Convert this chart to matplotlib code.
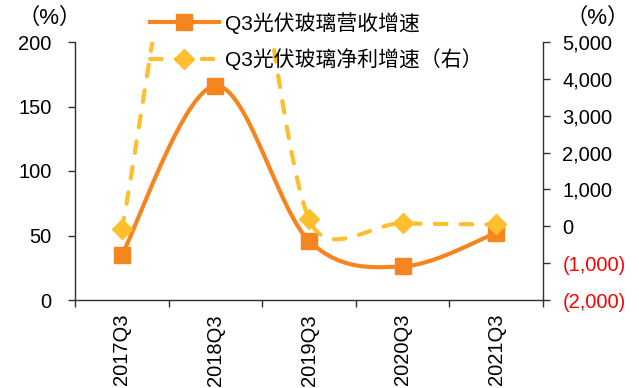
import matplotlib
matplotlib.use("Agg")
import matplotlib.pyplot as plt
import numpy as np
from matplotlib.ticker import FixedLocator, FuncFormatter

plt.rcParams['font.family'] = ['Liberation Sans', 'Noto Sans CJK SC']

quarters = ["2017Q3", "2018Q3", "2019Q3", "2020Q3", "2021Q3"]
revenue_growth = [35, 166, 46, 26, 52]          # left axis, %
profit_growth = [-80, 12000, 190, 80, 50]       # right axis, %
left_ticks = [0, 50, 100, 150, 200]
right_ticks = [-2000, -1000, 0, 1000, 2000, 3000, 4000, 5000]

ORANGE = "#F5861F"
YELLOW = "#FDBF2D"


def smooth(ax, xs, ys, n=60):
    # Bezier smoothing done in screen space, control arms capped at half a segment
    pts = ax.transData.transform(np.column_stack([xs, ys]).astype(float))
    f = 1.0 / 6
    out = [pts[:1]]
    for i in range(len(pts) - 1):
        p0 = pts[i - 1] if i > 0 else pts[i]
        p1, p2 = pts[i], pts[i + 1]
        p3 = pts[i + 2] if i + 2 < len(pts) else pts[i + 1]
        half = np.hypot(*(p2 - p1)) / 2
        a = (p2 - p0) * f
        b = (p3 - p1) * f
        if np.hypot(*a) > half:
            a = a * half / np.hypot(*a)
        if np.hypot(*b) > half:
            b = b * half / np.hypot(*b)
        c1, c2 = p1 + a, p2 - b
        t = np.linspace(0, 1, n)[1:, None]
        seg = ((1 - t) ** 3 * p1 + 3 * (1 - t) ** 2 * t * c1
               + 3 * (1 - t) * t ** 2 * c2 + t ** 3 * p2)
        out.append(seg)
    return ax.transData.inverted().transform(np.vstack(out))


W, H = 639, 388
fig = plt.figure(figsize=(W / 100, H / 100), dpi=100)
ax = fig.add_axes([75 / W, (H - 300) / H, 468 / W, 258 / H])
ax2 = ax.twinx()

x = np.arange(len(quarters))
ax.set_xlim(-0.5, len(quarters) - 0.5)
ax.set_ylim(0, 200)
ax2.set_ylim(-2000, 5000)

# lines (smoothed) + markers
s1 = smooth(ax, x, revenue_growth)
ax.plot(s1[:, 0], s1[:, 1], color=ORANGE, lw=3, solid_capstyle="round")
ax.plot(x, revenue_growth, ls="none", marker="s", ms=12, color=ORANGE)

s2 = smooth(ax2, x, profit_growth)
ax2.plot(s2[:, 0], s2[:, 1], color=YELLOW, lw=3, dashes=(2.8, 3.4),
         dash_capstyle="round")
ax2.plot(x, profit_growth, ls="none", marker="D", ms=10, color=YELLOW)

# axes styling
for a in (ax, ax2):
    a.spines["top"].set_visible(False)
    for s in ("left", "right", "bottom"):
        a.spines[s].set_color("#303030")
        a.spines[s].set_linewidth(1)
ax.spines["right"].set_visible(False)
ax2.spines["left"].set_visible(False)
ax2.spines["bottom"].set_visible(False)

ax.yaxis.set_major_locator(FixedLocator(left_ticks))
ax.tick_params(axis="y", direction="out", length=5, width=1, pad=12,
               labelsize=14.5, colors="#303030", labelcolor="black")

ax2.yaxis.set_major_locator(FixedLocator(right_ticks))
ax2.yaxis.set_major_formatter(FuncFormatter(
    lambda v, p: f"({abs(v):,.0f})" if v < 0 else f"{v:,.0f}"))
ax2.tick_params(axis="y", direction="out", length=5, width=1, pad=9,
                labelsize=14.5, colors="#303030", labelcolor="black")
for v, lab in zip(right_ticks, ax2.get_yticklabels()):
    if v < 0:
        lab.set_color("red")

ax.xaxis.set_major_locator(FixedLocator(np.arange(-0.5, len(quarters), 1)))
ax.xaxis.set_major_formatter(FuncFormatter(lambda v, p: ""))
ax.xaxis.set_minor_locator(FixedLocator(x))
ax.set_xticklabels(quarters, minor=True, rotation=90)
ax.tick_params(axis="x", which="major", direction="out", length=5, width=1,
               colors="#303030")
ax.tick_params(axis="x", which="minor", length=0, pad=10, labelsize=14.5)

fig.text(50 / W, 1 - 18 / H, "（%）", ha="center", va="center", fontsize=16)
fig.text(598 / W, 1 - 18 / H, "（%）", ha="center", va="center", fontsize=16)

# legend
h1 = plt.Line2D([], [], color=ORANGE, lw=3, marker="s", ms=12)
h2 = plt.Line2D([], [], color=YELLOW, lw=3, dashes=(2.8, 3.4),
                dash_capstyle="round", marker="D", ms=10)
fig.legend([h1, h2], ["Q3光伏玻璃营收增速", "Q3光伏玻璃净利增速（右）"],
           loc="upper left", bbox_to_anchor=(150 / W, 1 - 12 / H),
           frameon=False, fontsize=15, handlelength=3.3, handletextpad=0.3,
           labelspacing=0.7, borderpad=0, borderaxespad=0)

fig.savefig("out.png", dpi=100)
